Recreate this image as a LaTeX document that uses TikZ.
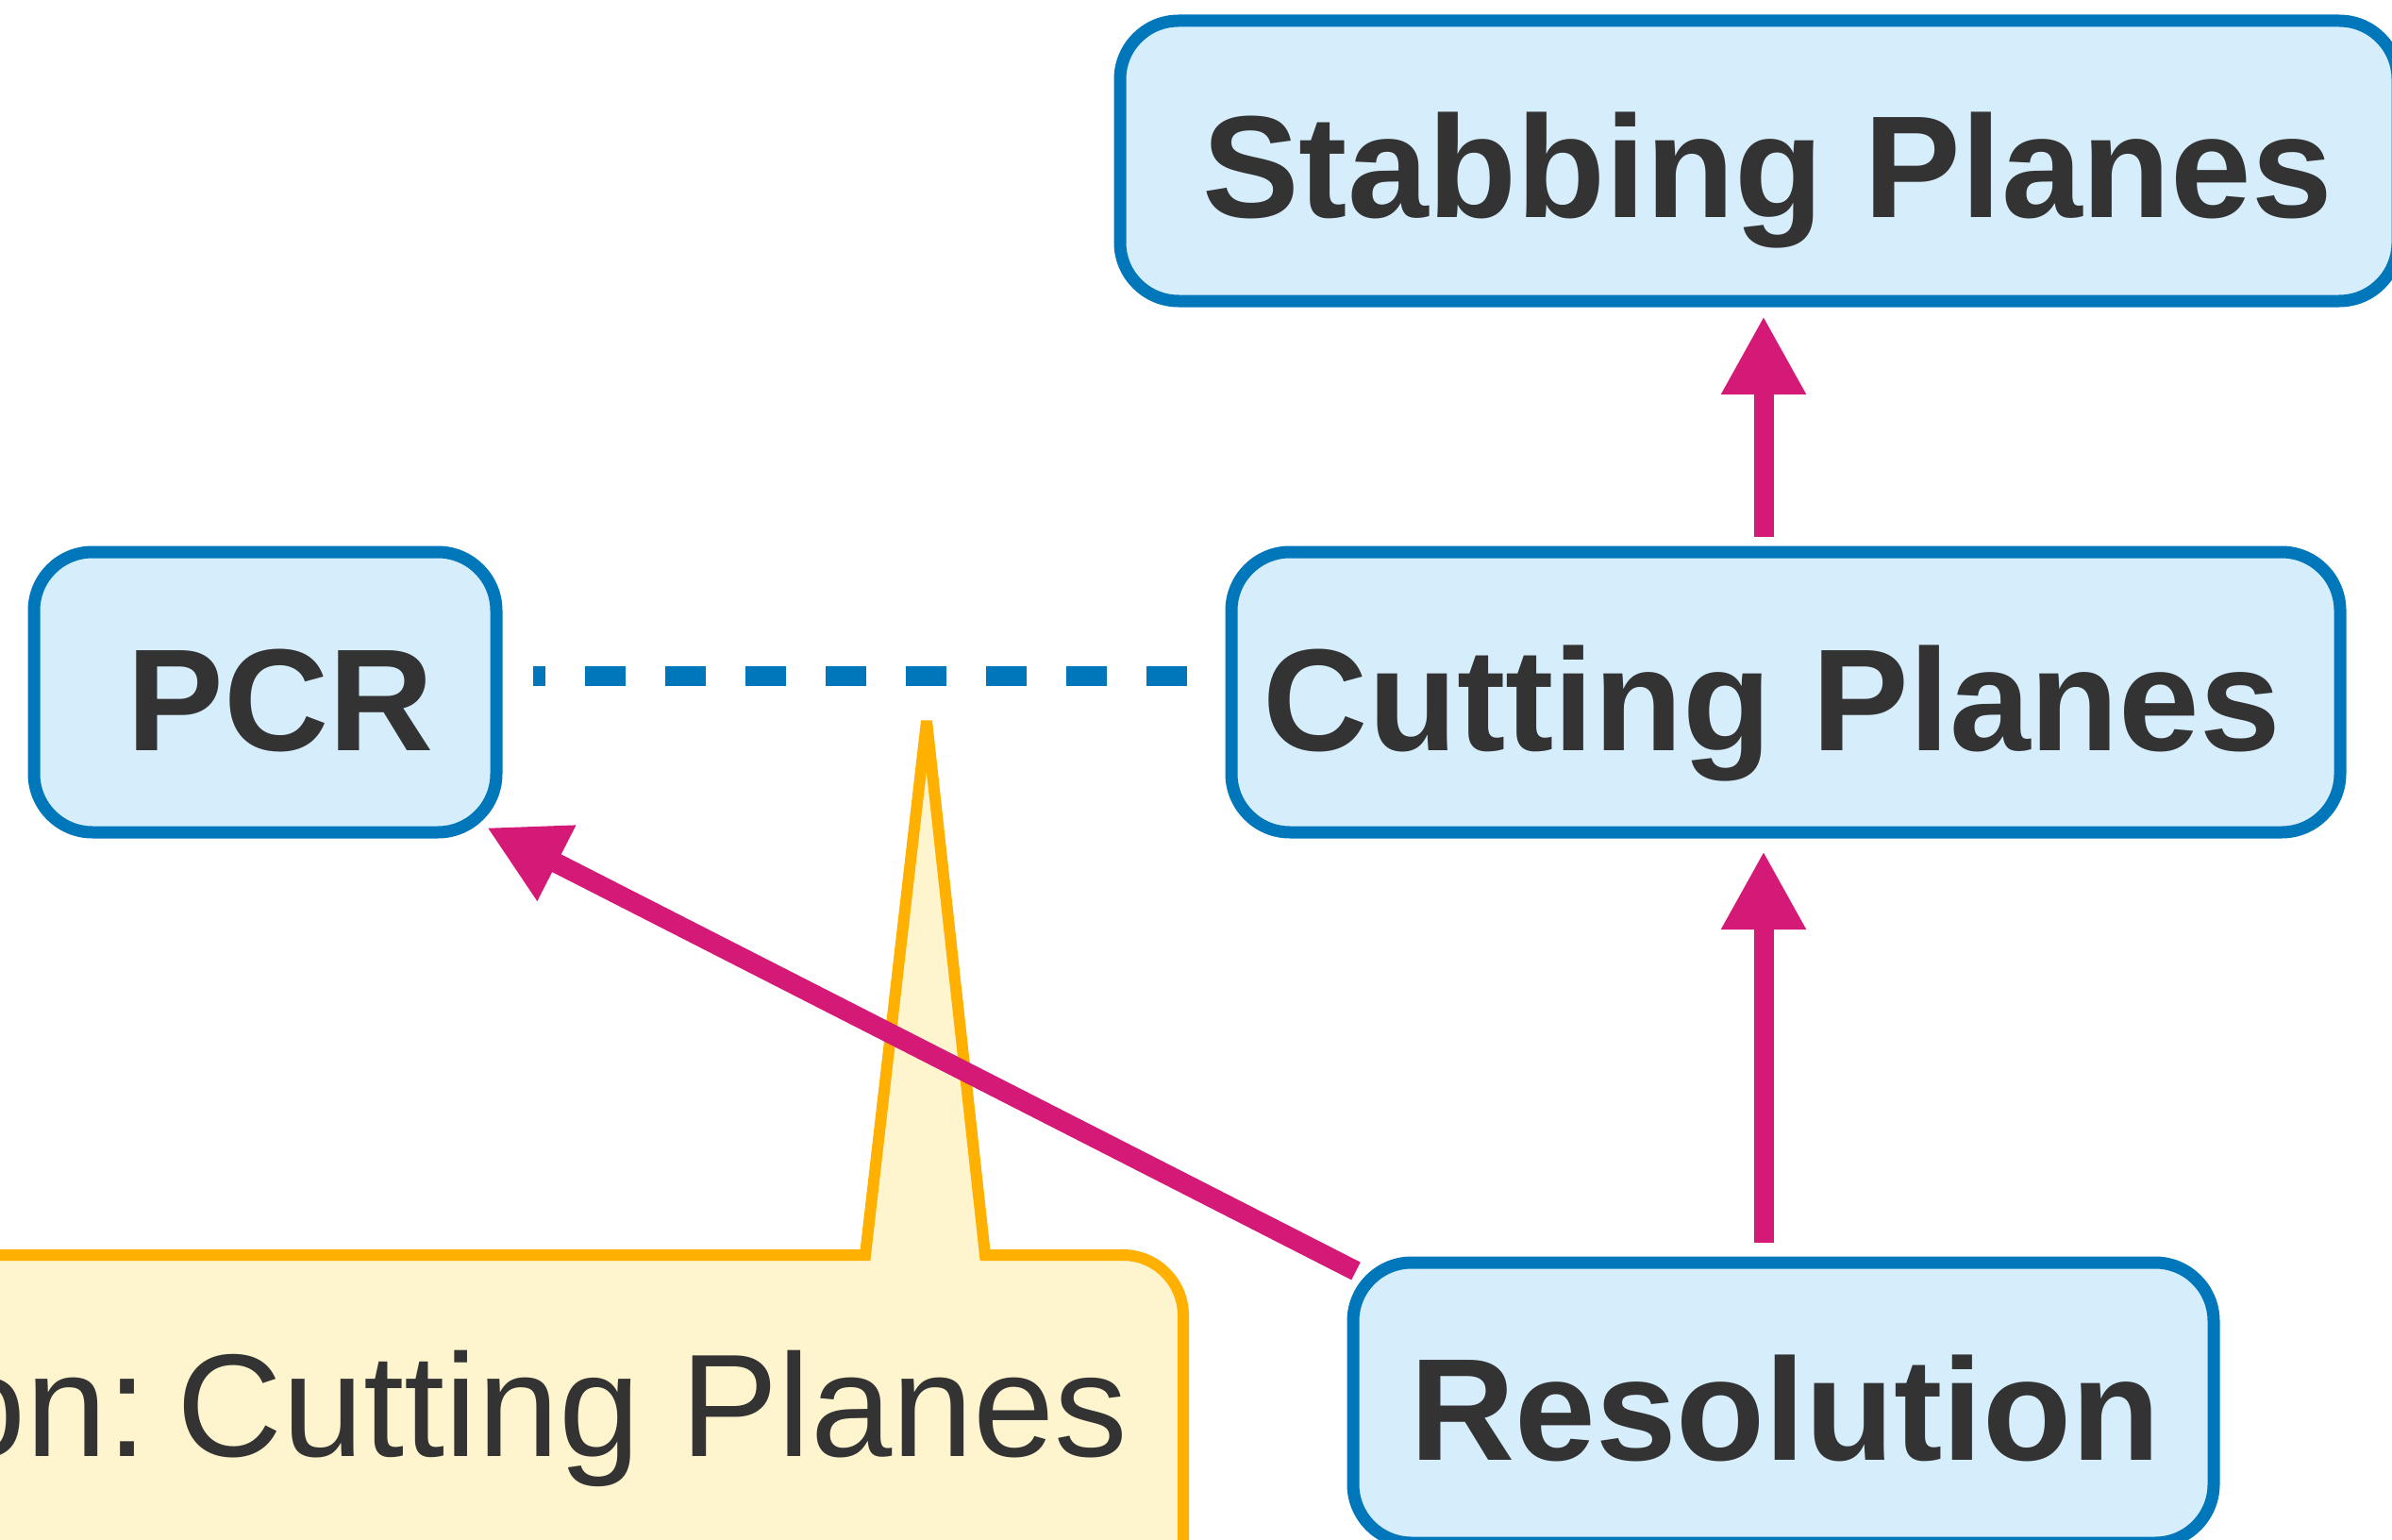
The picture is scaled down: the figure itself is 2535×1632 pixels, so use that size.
\documentclass[tikz,border=0pt]{standalone}
\usepackage{fontspec}
\setmainfont{Liberation Sans}
\usetikzlibrary{arrows.meta}
\definecolor{nodeblue}{RGB}{0,119,187}
\definecolor{nodefill}{RGB}{214,238,252}
\definecolor{linkpink}{RGB}{212,25,119}
\definecolor{noteorange}{RGB}{255,176,0}
\definecolor{notefill}{RGB}{254,244,206}
\definecolor{ink}{RGB}{51,51,51}

\begin{document}
\begin{tikzpicture}[x=1pt,y=-1pt,
  box/.style={rectangle,draw=nodeblue,fill=nodefill,line width=13pt,
    rounded corners=62pt,outer sep=0pt,inner sep=0pt,minimum height=297pt},
  boxtext/.style={font=\fontsize{154}{180}\selectfont\bfseries,text=ink,
    inner sep=0pt,anchor=base},
  notetext/.style={font=\fontsize{155}{180}\selectfont,text=ink,
    inner sep=0pt,anchor=base east},
  link/.style={draw=linkpink,line width=21pt,
    -{Triangle[length=83pt,width=84pt]}},
  incomparable/.style={draw=nodeblue,line width=21pt,
    dash pattern=on 43pt off 42pt,dash phase=30pt},
]
\useasboundingbox (0,0) rectangle (2535,1632);
\clip (0,0) rectangle (2535,1632);

% callout with its spike pointing at the dashed relation
\draw[draw=noteorange,fill=notefill,line width=12pt,miter limit=4]
  (-200,1330) -- (917,1330) -- (982,764) -- (1044,1330)
  [rounded corners=64pt] -- (1254,1330) -- (1254,1800)
  [sharp corners] -- (-200,1800) -- cycle;
\node[notetext] (note) at (1196,1543) {Separation:\hspace{0.2em}Cutting Planes};

% proof systems
\node[box,minimum width=1354pt] (stab) at (1864,170.5) {};
\node[box,minimum width=1175pt] (cut) at (1892.5,733.5) {};
\node[box,minimum width=490pt] (pcr) at (281,733.5) {};
\node[box,minimum width=912pt] (res) at (1890,1486.5) {};

\node[boxtext] (stabT) at (1873,231) {Stabbing Planes};
\node[boxtext] (cutT) at (1878,795) {Cutting Planes};
\node[boxtext] (pcrT) at (297,795) {PCR};
\node[boxtext] (resT) at (1892,1547) {Resolution};

% simulations
\coordinate (ax) at (1869,0);
\draw[link,shorten <=21pt,shorten >=20pt] (res.north -| ax) -- (cut.south -| ax);
\draw[link,shorten <=16pt,shorten >=16pt] (cut.north -| ax) -- (stab.south -| ax);
\draw[link] ([shift={(3,9)}]res.north west) -- ([shift={(-10,-5)}]pcr.south east);

% incomparability
\draw[incomparable,shorten <=39pt,shorten >=45pt]
  ([yshift=17pt]pcr.east) -- ([yshift=17pt]cut.west);
\end{tikzpicture}
\end{document}
